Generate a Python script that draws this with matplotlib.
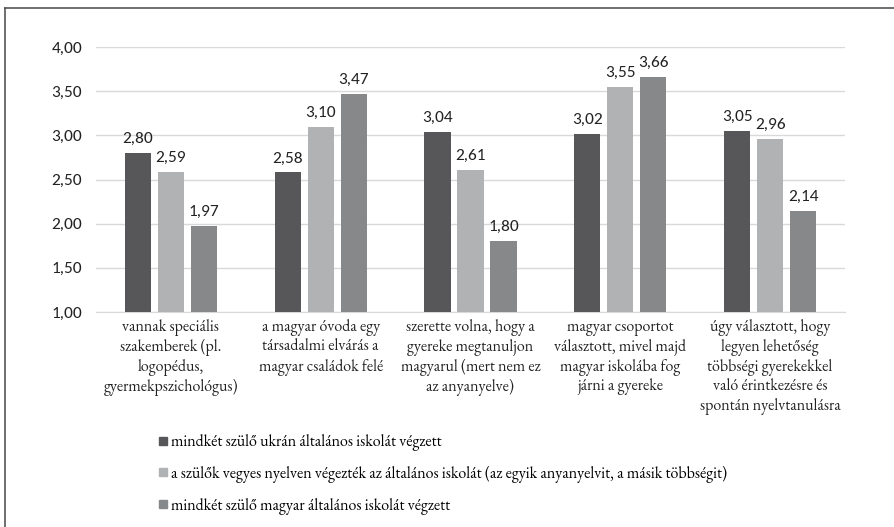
import numpy as np
import matplotlib
matplotlib.use("Agg")
import matplotlib.pyplot as plt
from matplotlib.lines import Line2D
from matplotlib import font_manager as fm

categories = [
    "vannak speciális\nszakemberek (pl.\nlogopédus,\ngyermekpszichológus)",
    "a magyar óvoda egy\ntársadalmi elvárás a\nmagyar családok felé",
    "szerette volna, hogy a\ngyereke megtanuljon\nmagyarul (mert nem ez\naz anyanyelve)",
    "magyar csoportot\nválasztott, mivel majd\nmagyar iskolába fog\njárni a gyereke",
    "úgy választott, hogy\nlegyen lehetőség\ntöbbségi gyerekekkel\nvaló érintkezésre és\nspontán nyelvtanulásra",
]
series_names = [
    "mindkét szülő ukrán általános iskolát végzett",
    "a szülők vegyes nyelven végezték az általános iskolát (az egyik anyanyelvit, a másik többségit)",
    "mindkét szülő magyar általános iskolát végzett",
]
ukran = [2.80, 2.58, 3.04, 3.02, 3.05]
vegyes = [2.59, 3.10, 2.61, 3.55, 2.96]
magyar = [1.97, 3.47, 1.80, 3.66, 2.14]
colors = ["#575759", "#b1b2b4", "#87888a"]

installed = {f.name for f in fm.fontManager.ttflist}
if "Carlito" in installed:
    sans, num_size = ["Carlito", "DejaVu Sans"], 12.5
else:
    sans, num_size = ["Lato", "DejaVu Sans"], 11
if "EB Garamond" in installed:
    serif, cat_size, leg_size = ["EB Garamond", "DejaVu Serif"], 11.5, 11.5
else:
    serif, cat_size, leg_size = ["Liberation Serif", "DejaVu Serif"], 10.5, 10.5

fig = plt.figure(figsize=(8.95, 5.27), dpi=100)
ax = fig.add_axes([96 / 895, 1 - 312 / 527, 749 / 895, 265 / 527])

x = np.arange(len(categories))
offsets = [-0.22, 0.0, 0.22]
for vals, off, col in zip([ukran, vegyes, magyar], offsets, colors):
    bars = ax.bar(x + off, np.array(vals) - 1.0, bottom=1.0, width=0.175,
                  color=col, zorder=3)
    for b, v in zip(bars, vals):
        ax.annotate(f"{v:.2f}".replace(".", ","),
                    (b.get_x() + b.get_width() / 2, v),
                    xytext=(0, 5), textcoords="offset points",
                    ha="center", va="bottom", fontsize=num_size,
                    family=sans, color="#222222")

ax.set_xlim(-0.5, len(categories) - 0.5)
ax.set_ylim(1.0, 4.0)
ax.set_yticks(np.arange(1.0, 4.01, 0.5))
ax.set_yticklabels([f"{t:.2f}".replace(".", ",") for t in np.arange(1.0, 4.01, 0.5)],
                   family=sans, fontsize=num_size, color="#222222")
ax.set_xticks(x)
ax.set_xticklabels(categories, family=serif, fontsize=cat_size,
                   color="#222222", linespacing=1.24)
ax.tick_params(axis="both", length=0)
ax.tick_params(axis="y", pad=10)
ax.tick_params(axis="x", pad=5)
ax.grid(axis="y", color="#d9d9d9", linewidth=1, zorder=0)
for s in ["top", "right", "left"]:
    ax.spines[s].set_visible(False)
ax.spines["bottom"].set_color("#d9d9d9")

handles = [Line2D([], [], marker="s", linestyle="none", markersize=6,
                  color=c) for c in colors]
fig.legend(handles, series_names, loc="upper left",
           bbox_to_anchor=(144 / 895, 1 - 420 / 527),
           frameon=False, handlelength=0.6, handletextpad=0.2,
           labelspacing=0.92, prop={"family": serif, "size": leg_size})

# frame of the figure (only top and left edges show)
fig.add_artist(Line2D([5 / 895, 5 / 895], [0, 1 - 8 / 527],
                      transform=fig.transFigure, color="#555555", linewidth=1.2))
fig.add_artist(Line2D([5 / 895, 1], [1 - 8 / 527, 1 - 8 / 527],
                      transform=fig.transFigure, color="#555555", linewidth=1.2))

fig.savefig("out.png", dpi=100)
